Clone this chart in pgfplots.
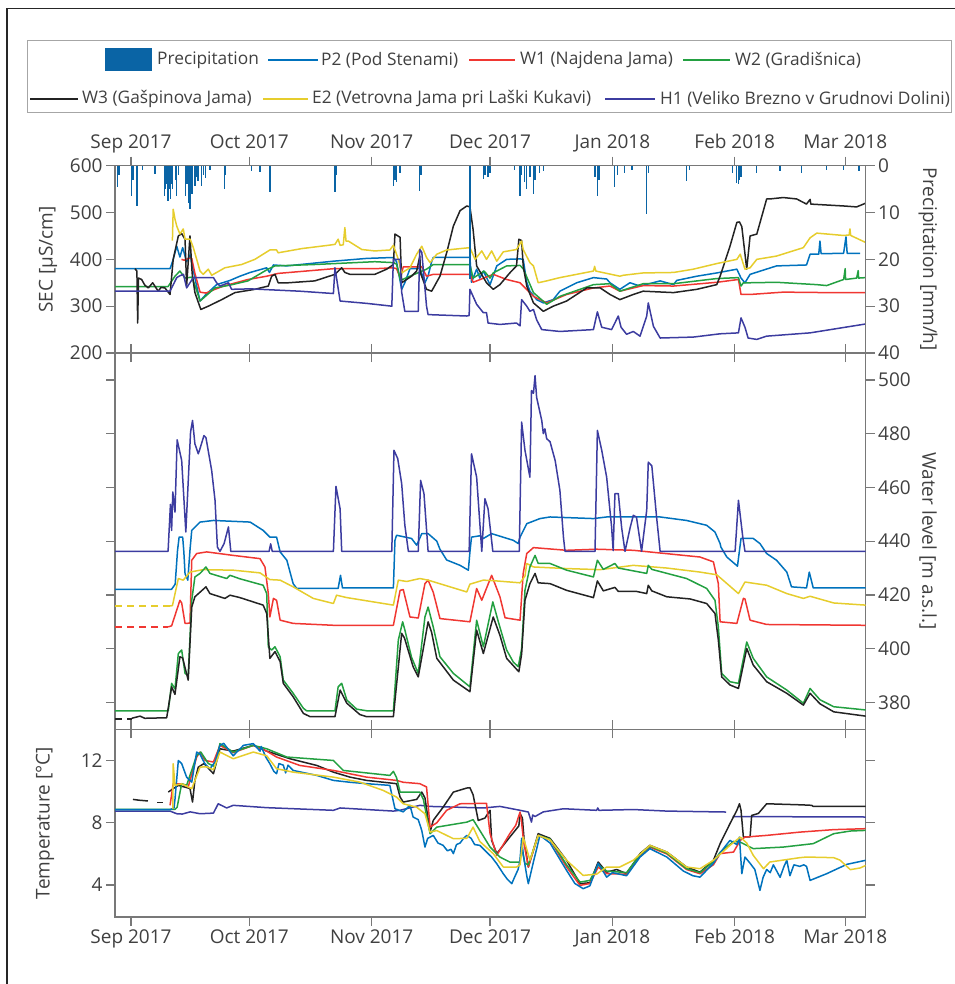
\documentclass[border=0pt]{standalone}
\usepackage{fontspec}
\setmainfont{Open Sans}
\usepackage{pgfplots}
\pgfplotsset{compat=1.18}
\definecolor{cP2}{RGB}{0,114,189}
\definecolor{cW1}{RGB}{240,55,50}
\definecolor{cW2}{RGB}{35,160,65}
\definecolor{cW3}{RGB}{35,35,35}
\definecolor{cE2}{RGB}{230,205,45}
\definecolor{cH1}{RGB}{60,60,160}
\definecolor{cPr}{RGB}{10,100,165}
\definecolor{axgray}{RGB}{120,120,120}
\definecolor{txt}{RGB}{64,64,64}
\newcommand{\tf}{\fontsize{19bp}{22bp}\selectfont}
\newcommand{\lf}{\fontsize{17.3bp}{20bp}\selectfont}
\pgfplotsset{
  panel/.style={
    scale only axis, width=750.7bp, xmin=-4.05, xmax=186.2,
    axis line style={draw=axgray, line width=1.3bp},
    tick style={draw=axgray, line width=1.3bp},
    major tick length=9bp, tick align=outside,
    xtick={0,30,61,91,122,153,181},
    tick label style={font=\tf, text=txt},
    xticklabel style={text height=14bp, text depth=4.5bp},
    label style={font=\tf, text=txt},
    /pgf/number format/assume math mode=true,
    anchor=north west,
  },
  ln/.style={no marks, line width=1.5bp, line join=round},
}
\begin{document}
\begin{tikzpicture}
\useasboundingbox (0,0) rectangle (955bp,-984bp);
\draw[black!85, line width=1.5bp] (7bp,-990bp) -- (7bp,-8.3bp) -- (960bp,-8.3bp);
% legend
\draw[draw=black!35, line width=1bp] (27.5bp,-40.7bp) rectangle (951bp,-112.7bp);
\fill[cPr] (105bp,-48bp) rectangle (152bp,-71bp);
\node[anchor=west, inner sep=0, font=\lf, text=txt] at (157bp,-60bp) {Precipitation};
\draw[cP2, line width=1.5bp] (268bp,-60bp) -- (318bp,-60bp);
\node[anchor=west, inner sep=0, font=\lf, text=txt] at (321bp,-60bp) {P2 (Pod Stenami)};
\draw[cW1, line width=1.5bp] (469bp,-60bp) -- (515bp,-60bp);
\node[anchor=west, inner sep=0, font=\lf, text=txt] at (520bp,-60bp) {W1 (Najdena Jama)};
\draw[cW2, line width=1.5bp] (683bp,-60bp) -- (730bp,-60bp);
\node[anchor=west, inner sep=0, font=\lf, text=txt] at (735bp,-60bp) {W2 (Gradišnica)};
\draw[cW3, line width=1.5bp] (30bp,-99bp) -- (78bp,-99bp);
\node[anchor=west, inner sep=0, font=\lf, text=txt] at (82bp,-99bp) {W3 (Gašpinova Jama)};
\draw[cE2, line width=1.5bp] (263bp,-99bp) -- (308bp,-99bp);
\node[anchor=west, inner sep=0, font=\lf, text=txt] at (312bp,-99bp) {E2 (Vetrovna Jama pri Laški Kukavi)};
\draw[cH1, line width=1.5bp] (605bp,-99bp) -- (655bp,-99bp);
\node[anchor=west, inner sep=0, font=\lf, text=txt] at (660bp,-99bp) {H1 (Veliko Brezno v Grudnovi Dolini)};

% ===== SEC panel =====
\begin{axis}[panel, at={(115bp,-165.7bp)}, height=187.3bp,
  ymin=200, ymax=600, ytick={200,300,400,500,600}, ytick pos=left,
  xtick pos=both, xticklabel pos=upper,
  xticklabels={Sep 2017,Oct 2017,Nov 2017,Dec 2017,Jan 2018,Feb 2018,Mar 2018},
  ylabel={SEC [µS/cm]},
  ylabel style={at={(axis description cs:-0.0893,0.5)}, anchor=center}]
\addplot[ln, cP2] coordinates {(-4.05,380) (9.9,380) (10.7,400) (11.6,428) (12.4,405) (13.1,425) (14.1,395) (15,410) (16.2,360) (17.5,311) (19,325) (21.7,346) (25.1,355) (27.6,364) (30.2,372) (34.4,382) (35.1,372) (36.1,388) (39.5,386) (51.2,396) (59.7,402) (66.5,404) (67.3,395) (68.6,336) (69.4,350) (70.7,380) (72.4,380) (73.2,382) (74.5,350) (75.3,365) (76.2,395) (76.6,404) (85.9,404) (86.3,351) (87.6,379) (88.4,360) (89.3,375) (91,346) (92.7,386) (95.2,400) (98.6,401) (99.4,400) (100.3,351) (101.1,332) (102.8,314) (104.5,307) (107,314) (108.7,332) (112.95,350) (117.2,361) (120.55,358) (121.4,350) (123.9,336) (126.45,350) (129,343) (134.1,354) (137.5,346) (138.3,355) (143.4,364) (148.45,371) (153.55,379) (154.6,360) (155.6,350) (156.9,368) (163.6,386) (171.2,388) (172.1,411) (174.3,411) (174.6,439) (174.9,412) (180.6,413) (181.2,448) (181.5,413) (184.8,413)};
\addplot[ln, cW1] coordinates {(12.8,400) (13.5,398) (14.5,402) (15.4,402) (16.2,370) (17.5,330) (19,328) (21.3,336) (23.5,343) (29.65,357) (34.4,364) (37.3,370) (51.3,380) (61.8,380) (66.5,382) (67.3,380) (68.3,360) (69,384) (73.7,384) (74.9,364) (76.6,368) (85.9,368) (86.7,351) (91.8,368) (95.2,357) (98.6,350) (102,321) (105.35,307) (110.4,325) (117.2,339) (121.4,343) (123.9,332) (129.8,344) (137.5,343) (148.45,351) (153.95,357) (154.6,325) (156.9,325) (165.3,330) (176.3,329) (186.2,329)};
\addplot[ln, cW2] coordinates {(-4.05,342) (9.4,342) (11.15,364) (12.4,375) (13.7,360) (15.4,362) (16.2,345) (17.5,311) (21.3,339) (25.1,345) (29.65,354) (34.7,379) (36.5,386) (46.6,389) (61.8,395) (66.5,393) (67.3,390) (68.3,355) (70.7,364) (74.9,379) (76.6,389) (85.9,389) (86.7,360) (89.5,375) (91,360) (91.8,371) (95.2,386) (98.6,387) (99.4,380) (102,329) (105.35,304) (108.7,321) (117.2,346) (121.4,348) (123.9,332) (129.8,348) (137.5,348) (148.45,359) (153.95,361) (154.6,343) (155.2,350) (156.9,350) (163.6,351) (173.8,346) (176.3,344) (180.6,357) (181.0,380) (181.1,357) (183.9,360) (184.3,376) (184.4,360) (186.2,361)};
\addplot[ln, cW3] coordinates {(1.0,380) (1.5,375) (1.7,264) (1.9,360) (2.7,357) (3.5,345) (4.4,339) (5.5,350) (6.9,332) (7.6,340) (8.6,339) (9.9,325) (10.7,400) (12.0,450) (12.85,455) (13.7,443) (14.1,343) (14.95,450) (15.5,370) (16.2,329) (17.7,293) (19.6,300) (23,314) (26.35,329) (31.4,336) (34.8,343) (35.65,364) (36.5,368) (37.3,350) (39.9,350) (46.6,354) (51.7,368) (53.4,382) (54.2,372) (55.5,368) (61.8,368) (64.8,379) (66.5,389) (66.9,454) (68.2,447) (68.6,350) (71.1,364) (72.4,375) (73.2,407) (73.4,370) (74.9,336) (76.2,332) (78.3,364) (80.0,414) (81.7,471) (83.4,504) (85.1,514) (85.9,512) (86.7,464) (87.6,386) (90.1,350) (91.8,336) (93.5,346) (96,371) (97.7,386) (98.3,443) (99.0,440) (99.4,386) (100.3,343) (102,307) (104.5,289) (107,300) (110.4,311) (115.5,339) (118.9,339) (121.4,325) (123.9,314) (127.3,325) (129.8,332) (137.5,329) (143.4,336) (148.45,346) (149.3,364) (151.8,428) (153.55,479) (154.2,480) (154.8,470) (156.05,379) (156.9,450) (158.6,454) (161.1,529) (161.9,529) (165.3,532) (168.7,529) (171.2,518) (172.1,528) (172.3,518) (180.6,514) (183.9,512) (186.2,520)};
\addplot[ln, cE2] coordinates {(10.5,440) (10.7,507) (11.15,486) (11.6,471) (12.4,454) (13.25,465) (13.7,443) (15,443) (15.8,425) (16.65,400) (17.5,375) (18.3,368) (19.6,379) (20.45,366) (23.8,382) (28.05,389) (31.4,400) (35.2,420) (36.9,420) (37.3,414) (43.3,423) (50,430) (51.7,432) (52.5,443) (53,430) (53.8,431) (54.2,468) (54.5,439) (55.1,439) (58.5,421) (61.8,418) (65.6,420) (66.5,430) (67.75,400) (68.6,371) (70.7,382) (72.4,411) (73.7,428) (74.9,404) (75.8,393) (77.5,411) (80,420) (85.9,425) (87.2,400) (88.9,418) (90.1,400) (91.4,418) (92.7,396) (94.35,416) (97.7,421) (99,439) (99.4,421) (101.1,393) (102,386) (103.2,350) (105.35,354) (108.7,361) (117.2,375) (117.5,385) (117.8,375) (123.9,364) (124.75,366) (129.8,371) (137.5,372) (142.5,379) (148.45,391) (153.55,400) (154.4,411) (155.6,379) (156.9,382) (158.6,400) (163.6,407) (170.4,425) (172.1,446) (173.8,456) (180.6,451) (182,452) (182.2,465) (182.4,451) (186.2,436)};
\addplot[ln, cH1] coordinates {(-4.05,332) (9.9,332) (11.6,361) (12.4,365) (13.3,368) (14.1,339) (15.8,361) (20.9,361) (21.7,350) (22.55,343) (24.7,350) (25.5,336) (30.2,337) (42.8,332) (51.3,327) (51.7,382) (52.1,360) (53,311) (59.7,306) (66.1,300) (66.5,400) (68.2,400) (68.6,330) (69.4,289) (72.8,289) (73.2,421) (73.7,415) (74.9,300) (75.3,282) (85.1,279) (85.7,280) (85.9,336) (86.7,321) (87.6,304) (89.3,286) (90.1,286) (90.5,264) (93.5,261) (97.7,264) (98.6,258) (99.0,314) (100.3,300) (101.1,289) (102,293) (102.8,271) (104.1,250) (108.7,246) (117.2,250) (118.2,288) (119.3,255) (121.8,250) (123.5,279) (124.2,255) (125.6,240) (127.3,246) (129,236) (130.7,279) (131.1,307) (132.4,257) (134.1,232) (142.5,234) (149.3,241) (153.95,243) (154.6,275) (155.6,255) (156.4,232) (158.6,229) (161.1,236) (172.1,243) (186.2,262)};
\end{axis}
\begin{axis}[panel, at={(115bp,-165.7bp)}, height=187.3bp,
  ymin=0, ymax=40, y dir=reverse, axis y line*=right, axis x line=none,
  ytick={0,10,20,30,40},
  ylabel={Precipitation [mm/h]},
  ylabel style={at={(axis description cs:1.083,0.5)}, anchor=center, rotate=180}]
\addplot[ycomb, no marks, cPr, line width=1.3bp] coordinates {(-3.5,4.6) (-3.0,2.0) (0.2,6.4) (0.5,3) (1.4,8.6) (1.7,8.6) (3,1) (6.1,1.8) (8.5,6.4) (8.6,5) (9.0,4) (9.4,7.5) (9.7,5) (10.0,7.2) (10.3,4) (10.6,5) (11.2,3) (11.6,6.4) (12.0,2) (13.9,6.4) (14.2,4) (14.5,7.9) (14.7,5) (14.95,9.3) (15.2,4) (15.5,6) (16.2,4.3) (16.6,2.5) (17.0,3.2) (17.9,4.3) (18.3,2) (18.9,2.7) (20.0,1) (23.7,5) (24,2) (30.5,1.2) (32.7,1.3) (35.2,5.6) (51.7,5.7) (52,2) (66.5,4.3) (66.9,3) (67.3,3.5) (68.2,1.5) (73.2,5.4) (73.5,2) (85.9,24.3) (89.3,2.9) (89.7,2) (90.5,2.5) (91.0,1.5) (97.2,1) (98.6,6.4) (99.0,2) (99.8,3.5) (100.3,5) (101.1,2.5) (102,6.1) (102.4,3) (103.5,1.5) (104.5,1.2) (117.6,2.5) (118.2,6.4) (118.6,3) (122.6,4.6) (123.3,2) (125.0,1.5) (127,1) (130.7,10.4) (131.1,1.5) (140.8,3.2) (141.5,1) (152.5,1.5) (153.5,3.6) (153.9,4) (154.2,3) (154.6,2.5) (158.6,1.5) (164.5,1.2) (169.9,1.5) (176.3,1) (180.6,1) (184.5,1.2)};
\end{axis}

% ===== Water level panel =====
\begin{axis}[panel, at={(115bp,-353bp)}, height=376.3bp,
  ymin=370, ymax=510, ytick={380,400,420,440,460,480,500},
  ytick pos=both, yticklabel pos=right,
  xtick pos=both, xticklabels={},
  ylabel={Water level [m a.s.l.]},
  ylabel style={at={(axis description cs:1.083,0.5)}, anchor=center, rotate=180}]
\addplot[ln, cP2] coordinates {(-4.05,422.1) (10.3,422.1) (11.2,424) (11.8,436.6) (12.2,441.5) (13.1,441.5) (13.4,436) (13.7,427.9) (14.4,425.5) (14.95,436.6) (15.4,444) (17.5,447.1) (20.9,447.7) (30.2,447.1) (33.5,444) (35.2,441.5) (36.9,441.5) (37.8,436) (39.5,432.9) (41.1,424.2) (42.0,422.4) (52.5,422.4) (53.1,427.3) (53.6,422.6) (66.5,422.6) (66.9,440.3) (67.3,442.2) (71.1,441) (72.4,438.5) (73.7,442.8) (75.3,442.8) (77.5,440) (78.3,437) (80.0,433) (83.4,431) (85.5,429.2) (85.9,436) (86.3,441.5) (88.4,442) (89.3,441) (91.4,442.8) (96.9,440.3) (98.15,439.1) (98.6,441.5) (100.3,446.5) (103.65,448.4) (106.2,449) (117.2,448.4) (120.55,449) (134.1,449) (140.8,447.7) (145.9,445.9) (148,443.4) (149.3,439.1) (149.5,437.8) (151,434.1) (153.7,430.7) (154.6,441) (157.7,441) (159.4,439.1) (161.1,435.4) (163.6,432.9) (166.2,428.5) (167.4,423) (171.2,422.6) (171.9,428.5) (172.9,422.6) (186.2,422.6)};
\addplot[ln, cW1, dash pattern=on 7bp off 5bp] coordinates {(-4.05,408.1) (9.45,408.1)};
\addplot[ln, cW1] coordinates {(9.45,408.1) (10.3,408.5) (12.4,418) (12.85,417) (13.7,409.4) (14.95,409.5) (15.4,432.9) (16.65,435.4) (19.2,436) (25.9,434.7) (32.7,433.5) (33.95,430.4) (34.8,420.5) (35.2,411.8) (36.1,418.7) (36.9,418) (37.8,410.6) (41.1,409.4) (51.3,408.7) (66.5,408.7) (68.2,421.7) (69.0,422) (70.7,411.8) (72.8,411.4) (74.5,424.2) (75.3,425.5) (76.6,421) (78.3,411.2) (85.9,410) (87.6,422.4) (88.9,418) (91.4,427.3) (93.5,419.3) (94.8,411.5) (96,411.2) (98.6,410.6) (99.4,428) (100.3,435.4) (102,437.6) (110.4,436.6) (118,437) (127.3,436.6) (144.2,434.1) (147.6,432.3) (148.85,424.2) (149.3,410) (153.55,409.4) (155.2,418.7) (155.6,418.5) (156.9,410.6) (161.1,409) (186.2,408.7)};
\addplot[ln, cE2, dash pattern=on 7bp off 5bp] coordinates {(-4.05,415.9) (9.9,415.9)};
\addplot[ln, cE2] coordinates {(9.9,415.9) (10.5,416) (12.0,426.1) (13.25,425.5) (14.95,428.5) (18.3,429.4) (25.9,429.2) (32.7,428.2) (35.2,425.7) (37.8,425.5) (41.1,423) (46.2,418.7) (51.3,416.8) (52.1,419.9) (54.7,419) (66.5,416.2) (67.75,425.5) (69.9,425) (73.2,426.1) (75.3,425.5) (85.1,421.1) (85.9,424) (89.3,425.5) (91.8,425.3) (98.6,424.5) (99.85,427) (100.3,431.7) (102,430.4) (110.4,429.8) (118.9,429.4) (127.3,431) (135.8,430) (144.2,428.5) (148.45,427.5) (153.95,420.5) (155.6,424.8) (161.1,423.6) (166.2,420.5) (170.4,418.7) (172.1,419.5) (178.1,417) (186.2,416.2)};
\addplot[ln, cW2] coordinates {(-4.05,376.9) (9.45,376.9) (10.3,387.1) (11.15,385) (12.0,398.2) (12.85,399.5) (13.7,390.8) (14.5,390) (15.4,418) (16.2,426.7) (17.5,428) (19.0,430.4) (20.0,428) (24.25,426.1) (25.1,427.3) (27.6,426) (33.5,423.6) (34.4,420.5) (34.8,400.7) (35.65,399.5) (36.5,400.7) (37.8,397) (38.6,388.3) (41.1,383.4) (43.7,377.8) (44.5,376.9) (51.7,376.9) (52.5,385.8) (53.4,387.1) (54.7,380.9) (57.2,377.5) (59.7,376.9) (66.5,376.9) (67.75,403.2) (68.85,410) (69.4,407) (71.1,396.8) (72.8,390.8) (74.5,411.8) (75.3,415.5) (76.6,408.1) (78.3,397) (81.7,390.8) (85.9,385.8) (87.6,410.6) (89.3,400.7) (91.7,417.4) (93.1,410) (95.2,399.5) (96.9,395) (98.15,393.3) (99.0,400) (99.85,421.7) (101.1,430.4) (102.4,434.7) (103.2,431.7) (106.2,431.7) (110.4,429.2) (117.2,426.7) (118.2,432.9) (119.7,429.5) (122.65,431.7) (123.5,430) (130.7,428) (131.1,431) (132,429.5) (140.8,426.1) (145.9,422.4) (148,418) (148.85,408.1) (149.7,390.8) (151.8,387.7) (153.95,387.1) (156.05,402.5) (157.7,396.4) (161.1,389.5) (166.2,384.6) (170.4,379.7) (172.1,385.2) (174.6,381) (178.1,378.4) (186.2,377.2)};
\addplot[ln, cW3, dash pattern=on 7bp off 5bp] coordinates {(-4.05,373.8) (0.18,373.8)};
\addplot[ln, cW3] coordinates {(0.18,374.1) (2.3,374.9) (3.5,374.1) (9.05,374.3) (10.3,385.8) (11.15,383) (12.4,397) (13.1,396.5) (14.5,388.3) (15.4,415.5) (16.2,419.3) (19.0,423) (20.0,420.5) (23.8,418.7) (25.1,419.9) (27.6,419) (33.5,416.2) (34.4,413.1) (35.2,396.4) (36.5,398.9) (37.8,395.2) (38.6,387.1) (41.1,382.1) (43.7,375.9) (45.4,374.7) (51.7,374.7) (53.0,384.6) (54.7,379.7) (58,375.5) (59.7,374.7) (66.5,374.7) (68.6,405.7) (69.3,404) (71.5,393.3) (72.8,389.5) (75.3,410) (76.2,406) (77.5,396.4) (81.7,388.3) (85.9,384) (87.6,406.9) (89.3,398.2) (91.8,411.8) (93.5,405) (95.2,396.4) (98.3,391.4) (99.0,398) (99.85,418) (101.1,424.2) (102.4,428) (103.2,424.5) (106.2,424.2) (110.4,421.7) (117.2,419) (118.2,425.2) (119.7,421.5) (122.65,422.8) (123.5,421.3) (128.1,421.3) (130.7,420.5) (131.1,423.6) (132,421.5) (135.8,419.3) (141.7,418.5) (145.9,416.8) (148,413.1) (148.85,403.2) (149.7,389.5) (151.8,386.5) (153.95,385.2) (156.05,400.1) (157.7,393.9) (161.1,387.7) (166.2,383.4) (170.4,379) (172.1,383.4) (174.6,379.5) (178.1,376.5) (186.2,374.9)};
\addplot[ln, cH1] coordinates {(-4.05,436.2) (9.4,436.2) (10.0,453.7) (10.3,444) (10.6,458.3) (11.15,450.8) (11.7,477.7) (12.85,470) (13.9,443.4) (15.1,480.6) (15.6,484.9) (16.2,476.2) (17.05,472.5) (17.4,474) (18.5,479.3) (19.0,478.5) (20.45,466.3) (21.3,455.2) (21.9,437.8) (22.55,436.2) (23.6,439.1) (24.7,445.3) (25.3,436.2) (35.0,436.2) (35.4,439) (35.8,436.2) (51.3,436.2) (51.95,460.4) (53,452) (53.4,436.2) (66.1,436.2) (66.65,473.8) (67.6,470.7) (68.6,461.4) (69.4,446) (70.3,436.2) (72.8,436.2) (73.4,462.6) (74.25,457.7) (75.3,436.2) (85.7,436.2) (86.3,472.5) (87.6,463.8) (88.9,436.2) (89.7,455.8) (90.5,452) (91.7,436.2) (98.4,436.2) (99.0,484.3) (99.85,473.8) (101.1,463.8) (101.5,496) (102.0,495) (102.4,501.6) (102.8,493.5) (104.1,484.9) (104.5,480) (104.9,481.8) (105.35,478.1) (106.2,477) (107.5,470) (108.7,458.9) (109.6,441.5) (110.0,436.2) (117.6,436.2) (118.2,481.2) (119.3,473.8) (120.55,463.8) (121.8,445.3) (122.2,436.5) (122.65,457.7) (123.5,457.7) (124.35,445) (125.2,436.2) (126.5,445) (127.3,449.6) (128.1,449) (129.4,436.2) (130.7,451.5) (131.1,469.4) (132.0,468) (133.2,449) (134.1,436.2) (153.1,436.2) (153.95,455.2) (155.05,441.5) (155.6,436.2) (186.2,436.2)};
\end{axis}

% ===== Temperature panel =====
\begin{axis}[panel, at={(115bp,-729.3bp)}, height=187.7bp,
  ymin=1.95, ymax=14, ytick={4,8,12},
  ytick pos=both, yticklabel pos=left,
  xtick pos=both, xticklabel pos=lower,
  xticklabels={Sep 2017,Oct 2017,Nov 2017,Dec 2017,Jan 2018,Feb 2018,Mar 2018},
  ylabel={Temperature [°C]},
  ylabel style={at={(axis description cs:-0.0932,0.5)}, anchor=center}]
\addplot[ln, cH1] coordinates {(-4.05,8.75) (9.9,8.75) (11.6,8.58) (13,8.56) (15,8.7) (17.5,8.58) (20.9,8.62) (22.1,9.22) (24.25,8.95) (25.9,9.12) (34.4,8.97) (51.3,8.8) (53,8.95) (59.7,8.85) (66.5,8.75) (68.2,8.8) (73.2,9.12) (75.8,9.05) (85.1,8.98) (89.3,8.95) (93.5,9.05) (98.6,8.8) (100.7,8.69) (101.5,8.04) (101.8,8.5) (102.4,8.4) (104.5,8.7) (109.6,8.9) (118.0,8.8) (118.3,8.95) (118.6,8.8) (127.3,8.85) (135.8,8.75) (150.8,8.69)};
\addplot[ln, cH1] coordinates {(152.5,8.4) (186.2,8.37)};
\addplot[ln, cW3] coordinates {(0.5,9.5) (2,9.45) (4.3,9.4)};
\addplot[ln, cW3] coordinates {(6.6,9.3) (8.1,9.3)};
\addplot[ln, cW3] coordinates {(9.45,9.97) (10.7,10.19) (12.0,10.4) (13.5,10.3) (14.95,10.2) (15.6,9.33) (16.2,10.72) (17.05,11.57) (18.5,11.8) (20.9,11.15) (22.55,12.75) (25.9,12.6) (31.0,12.97) (34.4,12.6) (40.3,12.11) (47.1,11.68) (51.3,11.25) (55.5,10.93) (59.7,10.72) (67.3,10.51) (68.2,9.65) (69.0,9.33) (72.4,9.5) (73.7,9.97) (74.5,9.6) (75.8,7.4) (76.6,8.15) (79.1,9.0) (81.7,9.97) (85.1,10.23) (85.9,10.25) (86.7,9.8) (88,8.15) (89.7,8.3) (91,8.8) (91.4,6.87) (92.7,6.02) (96,7.08) (98.3,7.8) (98.6,8.6) (99.2,8.3) (99.6,7.0) (100.7,5.16) (103.2,7.3) (106.2,7.0) (110.4,5.59) (113.8,4.09) (116.3,4.15) (118.4,5.48) (120.55,4.83) (123.1,5.0) (125.6,4.73) (129,6.02) (131.5,6.55) (135.8,6.12) (140.8,5.16) (144.2,4.83) (147.6,5.59) (149.3,6.66) (151.8,7.94) (153.55,8.8) (154.2,9.22) (154.6,8.8) (155.2,7.08) (156.9,7.1) (157.3,8.47) (159,8.6) (161.1,9.22) (170,9.15) (172.5,9.12) (172.9,9.05) (186.2,9.05)};
\addplot[ln, cW1] coordinates {(9.9,9.12) (10.7,10.51) (12.85,10.5) (14.5,10.3) (16.65,12.22) (17.5,12.54) (18.8,12.0) (20.9,11.9) (22.55,12.97) (25.9,12.5) (31.0,12.97) (34.4,12.6) (36.9,12.22) (42.8,11.68) (51.3,11.36) (59.7,10.93) (67.3,10.72) (69,10.6) (73.2,10.51) (74.9,10.3) (75.8,7.72) (77.5,8.0) (80,8.8) (83.4,9.22) (90.1,9.25) (91,7.3) (92.7,5.91) (96,7.3) (97.5,7.83) (98.6,8.69) (99.0,8.0) (99.5,6.8) (100.7,5.16) (103.2,7.19) (106.2,6.9) (110.4,5.16) (113.8,3.98) (116.3,4.1) (118.4,5.16) (120.55,4.73) (125.6,4.7) (129,5.85) (131.5,6.44) (135.8,6.0) (140.8,5.0) (144.2,4.73) (147.6,5.3) (149.3,6.02) (152.7,6.12) (154.4,6.87) (155.6,7.08) (161.1,7.19) (169.5,7.4) (178.1,7.56) (186.2,7.62)};
\addplot[ln, cW2] coordinates {(-4.05,8.86) (11.15,8.86) (11.7,9.0) (12.85,10.51) (14.1,10.4) (16.65,12.32) (17.7,12.54) (19.6,11.8) (21.3,11.6) (22.55,13.08) (25.9,12.54) (31.0,12.97) (34.4,12.75) (39.5,12.22) (51.3,12.0) (53.8,11.36) (65.6,11.04) (66.5,11.3) (67.3,10.9) (68.2,9.97) (73.2,9.97) (74.1,9.5) (75.8,7.3) (77.5,7.72) (85.1,8.04) (86.7,8.2) (88.4,7.51) (91,6.44) (93.5,5.8) (96,5.48) (98.6,5.48) (99.0,6.5) (99.8,5.4) (100.7,5.3) (103.2,7.19) (106.2,6.95) (110.4,5.3) (113.8,4.19) (116.3,4.3) (118.4,5.3) (120.55,4.9) (125.6,4.8) (129,5.95) (131.5,6.5) (135.8,6.05) (140.8,5.05) (144.2,4.8) (147.6,5.5) (149.3,6.1) (152.7,6.8) (154.4,6.76) (157.7,6.34) (165.3,6.44) (172.9,6.66) (178.1,7.3) (182.3,7.47) (186.2,7.51)};
\addplot[ln, cP2] coordinates {(-4.05,8.84) (9.9,8.84) (10.9,8.95) (11.15,9.5) (12.0,12.0) (12.85,11.8) (14.1,10.93) (15.4,10.61) (16.65,12.54) (17.5,12.4) (18.7,11.8) (20.0,11.47) (21.3,11.9) (22.55,12.97) (23.5,13.1) (25.9,12.3) (28.5,12.97) (31.0,13.08) (32.7,12.6) (33.0,12.9) (34.2,12.2) (35.2,11.79) (36.2,11.3) (36.9,11.15) (37.5,11.8) (38.6,11.7) (39.2,11.2) (39.8,11.7) (41.1,11.36) (47.1,11.04) (51.3,10.72) (55.5,10.6) (59.7,10.51) (65.6,10.4) (66.9,8.9) (69,8.7) (70.7,9.12) (71.5,8.37) (72.8,8.2) (73.7,7.5) (74.5,6.44) (75.2,7.0) (76.6,7.19) (77.8,6.7) (79.1,6.55) (80.2,6.2) (81.1,6.3) (81.7,6.02) (82.5,6.6) (83.4,6.7) (84.3,7.0) (85.1,7.19) (86.2,7.0) (87.1,6.6) (88.4,6.55) (90.1,6.12) (91.4,5.8) (92.7,5.37) (94.35,4.73) (95.3,4.4) (96.5,4.09) (97.2,4.5) (98.1,5.0) (98.6,5.6) (99.0,7.0) (99.4,6.0) (100.3,4.6) (100.7,4.09) (102,5.5) (103.65,7.19) (106.2,6.7) (110.4,4.94) (112.5,4.1) (114.6,3.77) (116.3,3.95) (118.4,5.4) (120.55,4.51) (122,4.8) (125.6,4.6) (129,5.8) (131.5,6.34) (135.8,5.8) (140,4.9) (142.4,4.6) (144.2,4.51) (147.6,5.4) (149.7,6.2) (151.8,6.87) (153.55,6.6) (154.2,7.08) (154.8,4.73) (155.6,5.8) (156.9,5.4) (158.1,5.0) (159.4,3.66) (160.2,4.5) (161.1,5.0) (162.0,4.8) (162.8,5.3) (164.5,4.5) (165.5,5.2) (166.2,5.59) (167.0,4.6) (168.0,5.3) (169.5,5.2) (170.5,5.3) (171.2,5.2) (172.1,4.3) (176.3,4.73) (181.4,5.33) (186.2,5.59)};
\addplot[ln, cE2] coordinates {(10.6,8.9) (10.7,11.79) (11.15,10.4) (12.85,10.5) (15.4,10.19) (17.5,11.57) (19.2,11.6) (20.9,11.4) (22.55,12.54) (25.9,12.11) (31.0,12.54) (34.4,12.3) (36.9,11.47) (41.1,11.25) (51.3,10.93) (58,10.61) (63.9,10.08) (67.3,9.65) (69,9.22) (72.4,9.0) (74.5,8.58) (75.8,7.4) (77.5,7.5) (81.7,6.98) (85.1,7.0) (86.7,7.72) (88.4,6.8) (91.8,6.02) (94.35,5.16) (97.7,5.16) (98.6,5.3) (99.4,7.08) (101.1,5.6) (103.2,7.19) (106.2,6.9) (110.4,5.59) (114.6,4.62) (118,4.7) (120.55,5.16) (123.9,5.16) (127.3,5.59) (131.5,6.55) (135.8,6.12) (140.8,5.16) (144.2,5.05) (147.6,5.59) (151.8,6.55) (154.4,7.08) (156.05,6.7) (157.7,5.91) (160.3,5.05) (161.9,5.48) (169.5,5.76) (171.2,5.8) (178.1,5.76) (179.7,5.6) (182.3,4.99) (184.8,5.1) (186.2,5.26)};
\end{axis}
\end{tikzpicture}
\end{document}
